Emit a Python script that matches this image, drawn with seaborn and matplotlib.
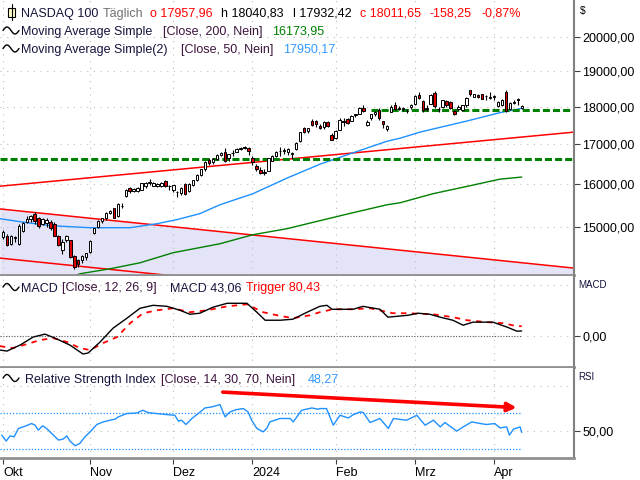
import numpy as np
import matplotlib
matplotlib.use("Agg")
import matplotlib.pyplot as plt
from matplotlib.patches import Rectangle
from matplotlib.lines import Line2D
from matplotlib.ticker import NullLocator, NullFormatter
import seaborn as sns

# daily candles, NASDAQ 100, 2 Oct 2023 .. 10 Apr 2024 (trading-day index)
open_ = [14760, 14800, 14620, 14740, 14620, 14900, 15110, 15170, 15300, 15200,
         15060, 15080, 15110, 15060, 14790, 14470, 14700, 14690, 14340, 14250,
         14250, 14320, 14440, 14850, 14990, 15120, 15190, 15320, 15420, 15250,
         15470, 15720, 15910, 15830, 15840, 15870, 15950, 16040, 15960, 15960,
         15960, 16070, 15950, 15850, 15800, 15780, 16000, 15830, 15990, 16090,
         16220, 16380, 16600, 16540, 16630, 16720, 16790, 16640, 16770, 16800,
         16880, 16930, 16910, 16640, 16450, 16340, 16280, 16330, 16580, 16700,
         16830, 16830, 16790, 16740, 16870, 17080, 17420, 17340, 17600, 17620,
         17470, 17440, 17580, 17250, 17170, 17380, 17610, 17660, 17620, 17760,
         17800, 17970, 17500, 17680, 17790, 17900, 17600, 17400, 17860, 18050,
         17960, 17940, 17880, 17980, 18060, 18320, 18140, 17920, 18080, 18380,
         17940, 17990, 18140, 18120, 17870, 17920, 17900, 18030, 18460, 18270,
         18320, 18340, 18300, 18230, 18260, 18020, 18040, 18400, 17920, 18100,
         18200, 17957.96]
high = [14920, 14830, 14810, 14800, 15060, 15110, 15250, 15270, 15330, 15220,
        15200, 15200, 15150, 15110, 14810, 14720, 14820, 14700, 14360, 14290,
        14370, 14420, 14690, 14980, 15160, 15210, 15330, 15390, 15440, 15540,
        15540, 15890, 15940, 15900, 15920, 16040, 16060, 16120, 16060, 16040,
        16050, 16110, 15990, 15990, 15830, 15920, 16020, 16030, 16110, 16240,
        16380, 16560, 16640, 16650, 16760, 16800, 16890, 16760, 16850, 16900,
        16920, 16960, 16930, 16700, 16490, 16420, 16380, 16660, 16720, 16830,
        16920, 16900, 16900, 16800, 17060, 17330, 17460, 17430, 17660, 17650,
        17520, 17600, 17620, 17300, 17360, 17680, 17680, 17690, 17760, 17810,
        17980, 18040, 17650, 17800, 17870, 17950, 17610, 17500, 18040, 18130,
        18010, 17990, 17930, 18060, 18310, 18390, 18180, 18040, 18340, 18420,
        18000, 18190, 18170, 18140, 17910, 18040, 18050, 18250, 18470, 18360,
        18340, 18360, 18320, 18400, 18320, 18150, 18200, 18460, 18130, 18170,
        18240, 18040.83]
low = [14720, 14560, 14590, 14650, 14580, 14870, 15090, 15110, 15060, 14970,
       15040, 14990, 14930, 14780, 14560, 14380, 14660, 14300, 14060, 14120,
       14200, 14250, 14410, 14830, 14970, 15090, 15150, 15290, 15190, 15230,
       15440, 15700, 15790, 15800, 15810, 15850, 15900, 15980, 15950, 15930,
       15930, 15940, 15860, 15820, 15690, 15740, 15750, 15810, 15960, 16070,
       16190, 16330, 16480, 16500, 16610, 16700, 16540, 16580, 16700, 16790,
       16840, 16870, 16730, 16480, 16330, 16260, 16220, 16320, 16560, 16680,
       16690, 16760, 16730, 16620, 16840, 17070, 17280, 17300, 17480, 17460,
       17400, 17410, 17460, 17100, 17140, 17370, 17480, 17520, 17600, 17730,
       17790, 17850, 17470, 17650, 17740, 17650, 17420, 17340, 17840, 17900,
       17900, 17870, 17830, 17920, 18040, 18220, 17860, 17880, 18060, 17960,
       17850, 17960, 18000, 17920, 17780, 17900, 17870, 18000, 18300, 18250,
       18240, 18200, 18170, 18220, 18180, 17990, 18020, 17850, 17900, 18080,
       18040, 17932.42]
close = [14890, 14590, 14790, 14760, 15020, 15090, 15180, 15240, 15120, 15010,
         15180, 15150, 14960, 14800, 14580, 14660, 14790, 14330, 14110, 14180,
         14340, 14410, 14670, 14960, 15140, 15190, 15320, 15370, 15210, 15520,
         15490, 15870, 15840, 15880, 15900, 16020, 16040, 16050, 16040, 16010,
         16030, 15950, 15960, 15970, 15810, 15900, 15770, 16010, 16090, 16230,
         16370, 16540, 16520, 16620, 16730, 16780, 16560, 16750, 16780, 16880,
         16900, 16890, 16830, 16540, 16370, 16280, 16300, 16640, 16690, 16790,
         16820, 16840, 16870, 16780, 17040, 17310, 17330, 17420, 17500, 17520,
         17420, 17590, 17480, 17120, 17340, 17640, 17580, 17560, 17750, 17790,
         17960, 17880, 17590, 17790, 17850, 17690, 17540, 17480, 18000, 17940,
         17920, 17970, 17870, 18040, 18300, 18230, 17900, 17970, 18320, 18010,
         17940, 18170, 18030, 17970, 17810, 17990, 18040, 18240, 18340, 18340,
         18260, 18210, 18280, 18250, 18300, 18120, 18170, 17880, 18110, 18130,
         18170, 18011.65]

month_pos = [0, 22, 43, 63, 84, 104, 124]
month_labels = ["Okt", "Nov", "Dez", "2024", "Feb", "Mrz", "Apr"]
price_levels = [15000, 16000, 17000, 18000, 19000, 20000]

# moving averages
ma200_x = [17, 19.4, 27, 34.6, 42.9, 54.8, 63.1, 71.7, 80, 88.4, 97, 100.3, 105.3,
           108.6, 117.2, 125.5, 131]
ma200_y = [13880, 13965, 14071, 14200, 14418, 14617, 14818, 14954, 15137, 15322,
           15508, 15555, 15685, 15770, 15947, 16122, 16173.95]
ma50_x = [-0.8, 4.3, 11.9, 22, 32.1, 38.9, 43.9, 49.7, 54.8, 63.1, 71.7, 80.1,
          88.4, 97, 100.3, 105.3, 108.6, 117.2, 125.5, 131]
ma50_y = [15184, 15114, 15023, 14977, 14977, 15069, 15161, 15300, 15508, 15770,
          16147, 16495, 16780, 17078, 17157, 17315, 17397, 17610, 17835, 17950.17]

# trend channel (end points) and horizontal levels
chan_x = [-0.8, 144.2]
chan_upper = [15950, 17315]
chan_mid = [15410, 14086]
chan_lower = [14302, 13080]
level_low = 16616
level_high = 17910
level_high_start = 93

# MACD panel
macd_x = [-0.8, 1, 4.3, 7.6, 10.6, 13.1, 16.9, 20.2, 21.5, 24.5, 27.8, 31.3, 34.6,
          37.9, 41.4, 44.7, 47.2, 49.7, 53, 56.6, 61.6, 64.1, 66.2, 70, 73.2, 76.8,
          80, 81.8, 83.1, 88.4, 90.9, 95.2, 97.2, 102.3, 104.8, 107.8, 110.4, 113.6,
          116.2, 118.7, 123.7, 127.3, 129.8, 131]
macd_y = [-107, -115, -68, -5, 18, -13, -68, -138, -130, -44, 65, 143, 221, 244,
          236, 205, 174, 182, 229, 260, 260, 190, 127, 127, 135, 190, 236, 244, 213,
          213, 236, 213, 151, 166, 182, 174, 151, 127, 88, 112, 112, 73, 41, 43.06]
trig_x = [-0.8, 2.5, 6.1, 9.3, 12.6, 16.2, 19.4, 22, 25.3, 28.8, 32.1, 35.4, 38.9,
          42.9, 47.2, 51.5, 56.6, 61.6, 65.7, 69.2, 73.2, 77.5, 80, 83.3, 88.4, 92.7,
          98.5, 102, 108.6, 113.6, 117.2, 122.2, 126.3, 129.8, 131]
trig_y = [-76, -91, -60, -29, -13, -44, -91, -107, -52, -5, 104, 182, 205, 221, 190,
          205, 236, 252, 190, 166, 143, 166, 190, 213, 213, 221, 182, 182, 174, 151,
          127, 112, 104, 80, 80.43]

# RSI panel
rsi_x = [-0.3, 0.8, 1.8, 2.8, 3.9, 5.6, 7.2, 8.1, 8.9, 10, 11, 12.3, 14, 15.2, 16.1,
         16.9, 18.2, 19.4, 20.7, 22, 23.7, 25.3, 27, 28.3, 29.1, 31.2, 33.8, 35.3,
         36.7, 38.8, 41.3, 43.4, 44.3, 45.1, 46.2, 47.7, 49.3, 51, 52.7, 54.8, 55.2,
         56.1, 57.3, 59, 60.7, 61.9, 62.8, 64.1, 65.7, 66.6, 67.4, 69.9, 72.5, 73.3,
         75.4, 78, 79.6, 80, 81.7, 83.4, 85.1, 87.2, 88.5, 90.2, 91, 92.7, 95.2, 97.3,
         98.6, 101.9, 104.5, 106.6, 108.7, 110.4, 111.6, 114.6, 116.2, 118.4, 120.5,
         122.1, 124.2, 125.5, 127.2, 127.9, 128.9, 130.6, 131]
rsi_y = [45.2, 38.6, 44.4, 43.3, 52.7, 55.2, 58.2, 56.3, 50.8, 55.6, 52.7, 47.1, 39.7,
         40.8, 44.4, 38.6, 33.3, 36, 43.3, 48.9, 57.1, 60, 61.9, 63, 65.6, 69.3, 70,
         73, 70.4, 69.3, 68.2, 67.4, 60.8, 61.9, 57.1, 63.8, 69.3, 75.6, 76.7, 79.3,
         74.9, 65.6, 71.1, 73.8, 74.9, 71.1, 61.9, 52.7, 48.9, 52.7, 60, 63.8, 63.8,
         60, 73, 75.6, 74.1, 74.9, 74.9, 56.3, 67.4, 64.4, 68.2, 71.1, 70.4, 59.3,
         63.8, 52.7, 63.8, 61.9, 67.4, 56.3, 61.9, 54.4, 59.3, 49.7, 54.4, 60, 58.2,
         57.1, 58.2, 53.3, 54.4, 45.2, 51.9, 54.4, 48.27]
rsi_arrow = [(55.5, 93.3), (129.7, 76.0)]

RED = "#ff0000"
GRID = "#bdbdbd"
XMAX = 144.2


def de(v):
    return f"{v:.2f}".replace(".", ",")


def box(x0, y0, x1, y1):
    return [x0 / 640, 1 - y1 / 480, (x1 - x0) / 640, (y1 - y0) / 480]


def style_axes(ax, ticks, labels):
    for side in ["top", "left"]:
        ax.spines[side].set_visible(False)
    ax.spines["right"].set_color("#808080")
    ax.spines["right"].set_linewidth(1.5)
    ax.spines["bottom"].set_color("#909090")
    ax.spines["bottom"].set_linewidth(2)
    ax.yaxis.tick_right()
    ax.set_yticks(ticks)
    ax.set_yticklabels(labels)
    ax.yaxis.set_minor_locator(NullLocator())
    ax.yaxis.set_minor_formatter(NullFormatter())
    ax.tick_params(axis="y", right=True, left=False, direction="out", length=4,
                   width=0.8, color="#404040", pad=2, labelsize=9, labelcolor="black")
    for m in month_pos:
        ax.axvline(m, color=GRID, ls=(0, (1, 5)), lw=0.8, zorder=0.5)
    ax.set_xlim(-0.76, XMAX)


sns.set_theme(style="white")
plt.rcParams["font.family"] = ["Liberation Sans", "DejaVu Sans"]

fig = plt.figure(figsize=(6.4, 4.8), dpi=100)
ax = fig.add_axes(box(0, 0, 574, 274.5))
ax_m = fig.add_axes(box(0, 275.5, 574, 366.5), sharex=ax)
ax_r = fig.add_axes(box(0, 367.5, 574, 457.7), sharex=ax)

# ---- price panel
ax.set_yscale("log")
ax.set_ylim(13950, 21160)
style_axes(ax, price_levels, [de(v) for v in price_levels])
for p in price_levels:
    ax.axhline(p, color=GRID, ls=(0, (1, 5)), lw=0.8, zorder=0.5)

ax.fill_between(chan_x, chan_mid, 10000, color="#e4e4f8", lw=0, zorder=0.2)
for line in (chan_upper, chan_mid, chan_lower):
    ax.plot(chan_x, line, color=RED, lw=1.1, zorder=2)
ax.axhline(level_low, color="#008000", lw=2.2, ls=(0, (2.3, 1.0)), zorder=2.5)
ax.plot([level_high_start, XMAX], [level_high, level_high], color="#008000", lw=2.2,
        ls=(0, (2.3, 1.0)), zorder=2.5)

sns.lineplot(x=ma200_x, y=ma200_y, ax=ax, color="#008000", linewidth=1, zorder=2)
sns.lineplot(x=ma50_x, y=ma50_y, ax=ax, color="#1e90ff", linewidth=1, zorder=2)

idx = np.arange(len(close))
o, h, l, c = (np.array(a, dtype=float) for a in (open_, high, low, close))
body_col = np.where(c >= o, "white", "#dd0000")
ax.vlines(idx, l, h, color="black", lw=0.8, zorder=3)
ax.bar(idx, np.maximum(np.abs(c - o), 4), bottom=np.minimum(o, c), width=0.62,
       color=body_col, edgecolor="black", linewidth=0.7, zorder=4)
ax.tick_params(axis="x", bottom=False, labelbottom=False)

# ---- MACD panel
ax_m.set_ylim(-236, 478)
style_axes(ax_m, [0], ["0,00"])
ax_m.axhline(0, color=GRID, ls=(0, (1, 5)), lw=0.8, zorder=0.5)
ax_m.axhline(400, color=GRID, ls=(0, (1, 5)), lw=0.8, zorder=0.5)
ax_m.plot([-0.76, 131], [0, 0], color="#606060", ls=(0, (1, 1.5)), lw=0.8, zorder=1)
sns.lineplot(x=trig_x, y=trig_y, ax=ax_m, color=RED, linewidth=1.3,
             dashes=False, zorder=2).lines[-1].set_linestyle((0, (3, 3)))
sns.lineplot(x=macd_x, y=macd_y, ax=ax_m, color="black", linewidth=1, zorder=3)
ax_m.tick_params(axis="x", bottom=False, labelbottom=False)

# ---- RSI panel
ax_r.set_ylim(20, 120.8)
style_axes(ax_r, [50], ["50,00"])
ax_r.axhline(50, color=GRID, ls=(0, (1, 5)), lw=0.8, zorder=0.5)
ax_r.axhline(100, color=GRID, ls=(0, (1, 5)), lw=0.8, zorder=0.5)
for lev in (30, 70):
    ax_r.plot([-0.76, 131], [lev, lev], color="#1e90ff", ls=(0, (1, 1.5)), lw=0.9, zorder=1)
sns.lineplot(x=rsi_x, y=rsi_y, ax=ax_r, color="#1e90ff", linewidth=1, zorder=2)
ax_r.annotate("", xy=rsi_arrow[1], xytext=rsi_arrow[0],
              arrowprops=dict(arrowstyle="-|>", color=RED, lw=2.6, mutation_scale=13,
                              shrinkA=0, shrinkB=0), zorder=3)
ax_r.set_xticks(month_pos)
ax_r.set_xticklabels(month_labels)
ax_r.tick_params(axis="x", bottom=True, direction="out", length=4, width=0.8,
                 color="#404040", pad=3, labelsize=9, labelcolor="black")
for t in ax_r.get_xticklabels():
    t.set_horizontalalignment("left")
for a in (ax, ax_m, ax_r):
    a.set_xlabel("")
    a.set_ylabel("")


# ---- legend-like header texts
def put(x, y, s, color="black", size=9):
    fig.text(x / 640, 1 - y / 480, s, color=color, fontsize=size, va="baseline")


def wave_icon(y):
    # small sine-wave glyph in front of each indicator name
    t = np.linspace(0, 2 * np.pi, 30)
    xs = (3 + 16 * t / (2 * np.pi)) / 640
    ys = 1 - (y - 4.5 - 3.5 * np.sin(t)) / 480
    fig.add_artist(Line2D(xs, ys, transform=fig.transFigure, color="black", lw=1))


NAME = "#14143c"
ARGS = "#3c143c"

fig.add_artist(Line2D([11.5 / 640, 11.5 / 640], [1 - 20 / 480, 1 - 4 / 480],
                      transform=fig.transFigure, color="black", lw=0.8))
fig.add_artist(Rectangle((8 / 640, 1 - 16.5 / 480), 7 / 640, 8.5 / 480,
                         transform=fig.transFigure, fc="#ffffc8", ec="black", lw=0.8))
put(21, 16.5, "NASDAQ 100", NAME)
put(103, 16.5, "Täglich", "#707070")
put(150, 16.5, "o 17957,96", RED)
put(221, 16.5, "h 18040,83")
put(293, 16.5, "l 17932,42")
put(360, 16.5, "c 18011,65", RED)
put(430, 16.5, "-158,25", RED)
put(481, 16.5, "-0,87%", RED)

wave_icon(35)
put(21, 35, "Moving Average Simple", NAME)
put(163, 35, "[Close, 200, Nein]", ARGS)
put(272, 35, "16173,95", "#008000")
wave_icon(53)
put(21, 53, "Moving Average Simple(2)", NAME)
put(181, 53, "[Close, 50, Nein]", ARGS)
put(283, 53, "17950,17", "#3399ff")

wave_icon(291.5)
put(21, 291.5, "MACD", NAME)
put(62, 291.5, "[Close, 12, 26, 9]", ARGS)
put(170, 291.5, "MACD 43,06", NAME)
put(246, 291.5, "Trigger 80,43", RED)

wave_icon(382.5)
put(25, 382.5, "Relative Strength Index", NAME)
put(161, 382.5, "[Close, 14, 30, 70, Nein]", ARGS)
put(308, 382.5, "48,27", "#3399ff")

put(580, 14, "$", "black", 7.5)
put(578, 288, "MACD", NAME, 7)
put(578, 380, "RSI", NAME, 7)

fig.savefig("out.png", dpi=100)
